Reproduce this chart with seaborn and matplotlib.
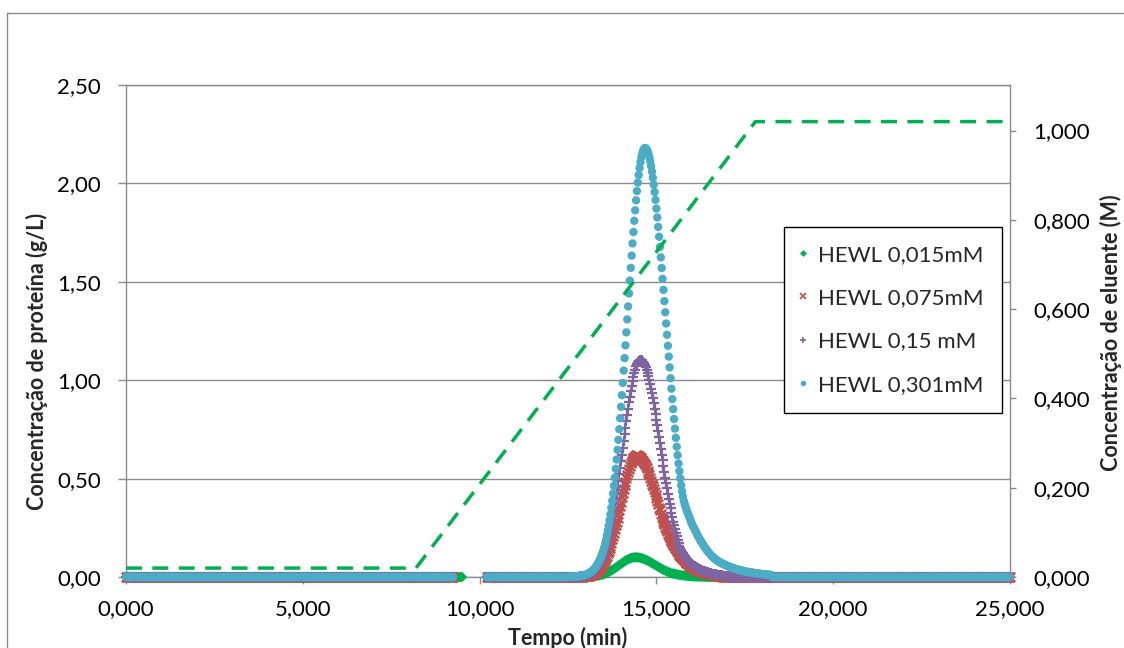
import numpy as np
import pandas as pd
import matplotlib
matplotlib.use("Agg")
import matplotlib.pyplot as plt
from matplotlib.lines import Line2D
from matplotlib.ticker import FuncFormatter
import seaborn as sns

# ---------------------------------------------------------------- data
STEP = 0.025          # sampling interval of the chromatograms (min)
GREEN_STEP = 0.05     # sampling interval of the 0,015 mM run (min)
T_END = 25.0
GAP_START = 9.25      # last baseline sample before the missing stretch
GAP_START_GREEN = 9.5
GAP_END = 10.2        # first sample after the missing stretch

series_labels = ["HEWL 0,015mM", "HEWL 0,075mM", "HEWL 0,15 mM", "HEWL 0,301mM"]

# protein concentration (g/L) across each elution peak; baseline elsewhere is 0
green_start = 12.80
green_peak = [
    0.0002, 0.0003, 0.0005, 0.0006, 0.0009, 0.0013, 0.0017, 0.0023, 0.0031, 0.0042,
    0.0054, 0.0070, 0.0090, 0.0113, 0.0141, 0.0174, 0.0212, 0.0255, 0.0304, 0.0357,
    0.0415, 0.0477, 0.0541, 0.0607, 0.0672, 0.0736, 0.0797, 0.0852, 0.0901, 0.0941,
    0.0972, 0.0992, 0.1000,
    0.0997, 0.0987, 0.0969, 0.0944, 0.0912, 0.0874, 0.0832, 0.0785, 0.0734, 0.0682,
    0.0628, 0.0574, 0.0520, 0.0468, 0.0418, 0.0370, 0.0325, 0.0283, 0.0244,
    0.0210, 0.0185, 0.0162, 0.0142, 0.0124, 0.0108, 0.0094, 0.0082, 0.0071, 0.0061,
    0.0053, 0.0045, 0.0039, 0.0033, 0.0028, 0.0024, 0.0020, 0.0017, 0.0014, 0.0012,
    0.0010,
]

red_start = 12.80
red_peak = [
    0.001, 0.001, 0.001, 0.002, 0.002, 0.002, 0.003, 0.003, 0.004, 0.004,
    0.005, 0.006, 0.007, 0.009, 0.010, 0.012, 0.014, 0.016, 0.019, 0.022,
    0.025, 0.029, 0.033, 0.038, 0.043, 0.049, 0.055, 0.062, 0.070, 0.078,
    0.087, 0.098, 0.108, 0.120, 0.132, 0.146, 0.160, 0.175, 0.191, 0.207,
    0.225, 0.243, 0.262, 0.281, 0.301, 0.321, 0.342, 0.362, 0.383, 0.404,
    0.425, 0.445, 0.465, 0.484, 0.502, 0.520, 0.536, 0.551, 0.565, 0.578,
    0.589, 0.598, 0.606, 0.612, 0.616, 0.618,
    0.618, 0.617, 0.615, 0.612, 0.608, 0.603, 0.596, 0.589, 0.581, 0.572,
    0.563, 0.552, 0.541, 0.529, 0.516, 0.503, 0.489, 0.475, 0.461, 0.446,
    0.431, 0.416, 0.400, 0.385, 0.369, 0.353, 0.338, 0.322, 0.307,
    0.293, 0.280, 0.267, 0.255, 0.243, 0.232, 0.221, 0.210, 0.200, 0.190,
    0.181, 0.172, 0.163, 0.155, 0.147, 0.140, 0.133, 0.126, 0.119, 0.113,
    0.107, 0.101, 0.096, 0.091, 0.086, 0.081, 0.077, 0.073, 0.069, 0.065,
    0.061, 0.058, 0.055, 0.052, 0.049, 0.046, 0.043, 0.041, 0.038, 0.036,
    0.034, 0.032, 0.030, 0.028, 0.026, 0.025, 0.023, 0.022, 0.020, 0.019,
    0.018, 0.017, 0.016, 0.015, 0.014, 0.013, 0.012, 0.011, 0.010, 0.009,
    0.009, 0.008, 0.007, 0.007, 0.006, 0.006, 0.005, 0.005,
]

purple_start = 12.80
purple_peak = [
    0.002, 0.002, 0.003, 0.003, 0.004, 0.005, 0.005, 0.006, 0.007, 0.009,
    0.010, 0.012, 0.014, 0.016, 0.019, 0.022, 0.025, 0.029, 0.033, 0.037,
    0.043, 0.049, 0.055, 0.062, 0.070, 0.079, 0.089, 0.100, 0.111, 0.124,
    0.138, 0.153, 0.169, 0.186, 0.205, 0.224, 0.245, 0.268, 0.291, 0.316,
    0.343, 0.370, 0.398, 0.428, 0.459, 0.490, 0.522, 0.555, 0.589, 0.622,
    0.657, 0.691, 0.725, 0.759, 0.792, 0.824, 0.856, 0.887, 0.916, 0.944,
    0.970, 0.995, 1.017, 1.037, 1.054, 1.070, 1.082, 1.092, 1.099, 1.104,
    1.105,
    1.104, 1.101, 1.095, 1.088, 1.078, 1.066, 1.052, 1.037, 1.019, 1.000,
    0.979, 0.957, 0.934, 0.909, 0.883, 0.856, 0.829, 0.800, 0.771, 0.742,
    0.712, 0.682, 0.652, 0.622, 0.592, 0.563, 0.534, 0.505, 0.477, 0.450,
    0.424, 0.398, 0.373, 0.349, 0.326, 0.304, 0.282, 0.262, 0.243, 0.224,
    0.207, 0.190, 0.175, 0.160,
    0.149, 0.139, 0.129, 0.120, 0.112, 0.105, 0.098, 0.092, 0.086, 0.081,
    0.077, 0.072, 0.068, 0.065, 0.061, 0.058, 0.055, 0.052, 0.049, 0.046,
    0.044, 0.041, 0.039, 0.037, 0.035, 0.033, 0.031, 0.029, 0.028, 0.026,
    0.025, 0.023, 0.022, 0.021, 0.019, 0.018, 0.017, 0.016, 0.015, 0.014,
    0.013, 0.012, 0.011, 0.011, 0.010, 0.009, 0.009, 0.008, 0.007, 0.007,
    0.006, 0.006, 0.005, 0.005, 0.004, 0.004,
]

blue_start = 12.55
blue_peak = [
    0.001, 0.001, 0.001, 0.001, 0.002, 0.002, 0.002, 0.002, 0.003, 0.003,
    0.004, 0.004, 0.005, 0.006, 0.007, 0.008, 0.009, 0.010, 0.012, 0.013,
    0.015, 0.017, 0.020, 0.023, 0.026, 0.029, 0.033, 0.038, 0.043, 0.048,
    0.055, 0.062, 0.070, 0.078, 0.088, 0.098, 0.109, 0.122, 0.135, 0.151,
    0.169, 0.189, 0.211, 0.235, 0.261, 0.289, 0.319, 0.352, 0.387, 0.424,
    0.463, 0.505, 0.550, 0.597, 0.646, 0.697, 0.751, 0.807, 0.865, 0.924,
    0.986, 1.049, 1.112, 1.177, 1.243, 1.309, 1.375, 1.441, 1.506, 1.571,
    1.633, 1.695, 1.753, 1.810, 1.863, 1.914, 1.961, 2.004, 2.043, 2.078,
    2.108, 2.133, 2.152, 2.167, 2.176, 2.180,
    2.179, 2.173, 2.164, 2.151, 2.134, 2.113, 2.088, 2.060, 2.029, 1.994,
    1.956, 1.916, 1.872, 1.827, 1.779, 1.729, 1.677, 1.624, 1.570, 1.515,
    1.459, 1.402, 1.345, 1.288, 1.231, 1.175, 1.120, 1.065, 1.010, 0.957,
    0.904, 0.853, 0.803, 0.754, 0.707, 0.662, 0.619, 0.577, 0.538, 0.501,
    0.466, 0.435, 0.408,
    0.387, 0.371, 0.356, 0.342, 0.330, 0.318, 0.306, 0.295, 0.283, 0.272,
    0.262, 0.253, 0.244, 0.235, 0.226, 0.217, 0.208, 0.200, 0.192, 0.185,
    0.177, 0.170, 0.163, 0.156, 0.149, 0.143, 0.137, 0.131, 0.125, 0.120,
    0.115, 0.110, 0.105, 0.101, 0.097, 0.093, 0.089, 0.086, 0.083, 0.080,
    0.077, 0.075, 0.072, 0.070, 0.067, 0.065, 0.063, 0.061, 0.059, 0.057,
    0.055, 0.053, 0.051, 0.050, 0.048, 0.046, 0.045, 0.043, 0.042, 0.040,
    0.039, 0.038, 0.036, 0.035, 0.034, 0.033, 0.032, 0.031, 0.030, 0.029,
    0.028, 0.027, 0.026, 0.025, 0.025, 0.024, 0.023, 0.022, 0.022, 0.021,
    0.020, 0.019, 0.019, 0.018, 0.018, 0.017, 0.016, 0.016, 0.015, 0.015,
    0.014, 0.014, 0.013, 0.013, 0.012, 0.012, 0.011, 0.011, 0.011, 0.010,
]

# eluent (salt) gradient, secondary axis (M)
eluent_time = [0.0, 8.2, 17.8, 25.0]
eluent_conc = [0.02, 0.02, 1.02, 1.02]

# axis ticks
x_ticks = [0, 5, 10, 15, 20, 25]
y_ticks = [0.0, 0.5, 1.0, 1.5, 2.0, 2.5]
y2_ticks = [0.0, 0.2, 0.4, 0.6, 0.8, 1.0]


def assemble(start, values, step, left_end):
    """Full chromatogram: zero baseline on the sampling grid plus the peak readings."""
    values = np.asarray(values, dtype=float)
    t_peak = start + step * np.arange(len(values))
    t_base = np.concatenate([
        np.arange(0.0, left_end + step / 2, step),
        np.arange(GAP_END, start - step / 2, step),
        np.arange(t_peak[-1] + step, T_END + step / 2, step),
    ])
    t = np.concatenate([t_base, t_peak])
    c = np.concatenate([np.zeros_like(t_base), values])
    order = np.argsort(t)
    return pd.DataFrame({"Tempo": t[order], "Conc": c[order]})


green_df = assemble(green_start, green_peak, GREEN_STEP, GAP_START_GREEN)
red_df = assemble(red_start, red_peak, STEP, GAP_START)
purple_df = assemble(purple_start, purple_peak, STEP, GAP_START)
blue_df = assemble(blue_start, blue_peak, STEP, GAP_START)
eluent_df = pd.DataFrame({"Tempo": eluent_time, "Eluente": eluent_conc})

# ---------------------------------------------------------------- style
sns.set_theme(style="white")
plt.rcParams["font.family"] = ["Lato", "DejaVu Sans"]

GRID = "#8a8a8a"
GREEN = "#00b050"
RED = "#c0504d"
PURPLE = "#8064a2"
BLUE = "#4bacc6"

W, H = 1124, 648
fig = plt.figure(figsize=(W / 100, H / 100), dpi=100)
fig.patch.set_facecolor("white")

x0, x1, y_top, y_bot = 126, 1010, 85, 577
ax = fig.add_axes([x0 / W, 1 - y_bot / H, (x1 - x0) / W, (y_bot - y_top) / H])
ax2 = ax.twinx()

# chart-area border (only its top and left edges fall inside the image)
fig.add_artist(Line2D([7 / W, 1.0], [1 - 13 / H, 1 - 13 / H], transform=fig.transFigure,
                      color=GRID, lw=1.0))
fig.add_artist(Line2D([7 / W, 7 / W], [0.0, 1 - 13 / H], transform=fig.transFigure,
                      color=GRID, lw=1.0))

# ---------------------------------------------------------------- protein curves
curves = [
    (green_df, GREEN, "D", dict(s=30, linewidth=0, edgecolor="none")),
    (red_df, RED, "x", dict(s=46, linewidth=1.7)),
    (purple_df, PURPLE, "+", dict(s=44, linewidth=1.6)),
    (blue_df, BLUE, "o", dict(s=36, linewidth=0, edgecolor="none")),
]
for df, color, marker, kw in curves:
    sns.scatterplot(data=df, x="Tempo", y="Conc", ax=ax, color=color, marker=marker,
                    legend=False, zorder=3, **kw)
    ax.collections[-1].set_clip_on(False)

# ---------------------------------------------------------------- eluent gradient
sns.lineplot(data=eluent_df, x="Tempo", y="Eluente", ax=ax2, color=GREEN, lw=2.5,
             linestyle=(0, (4.6, 3.0)), estimator=None, sort=False)

# ---------------------------------------------------------------- axes
ax.set_xlim(0, 25)
ax.set_ylim(0, 2.5)
ax2.set_ylim(0, 1.102)
ax.set_xticks(x_ticks)
ax.set_yticks(y_ticks)
ax2.set_yticks(y2_ticks)
ax.xaxis.set_major_formatter(FuncFormatter(lambda v, p: f"{v:.3f}".replace(".", ",")))
ax.yaxis.set_major_formatter(FuncFormatter(lambda v, p: f"{v:.2f}".replace(".", ",")))
ax2.yaxis.set_major_formatter(FuncFormatter(lambda v, p: f"{v:.3f}".replace(".", ",")))
ax.set_xlabel("")
ax.set_ylabel("")
ax2.set_ylabel("")

ax.grid(False)
ax2.grid(False)
ax.yaxis.grid(True, color=GRID, lw=1.0)
ax.set_axisbelow(True)

for name, sp in ax.spines.items():
    sp.set_visible(name in ("left", "bottom", "top"))
    sp.set_color(GRID)
    sp.set_linewidth(1.0)
for name, sp in ax2.spines.items():
    sp.set_visible(name == "right")
    sp.set_color(GRID)
    sp.set_linewidth(1.0)

TICK_FS = 16
ax.tick_params(axis="x", direction="out", length=5, width=1.0, color=GRID,
               pad=11, labelsize=TICK_FS, labelcolor="black", bottom=True)
ax.tick_params(axis="y", direction="out", length=5.5, width=1.0, color=GRID,
               pad=12.5, labelsize=TICK_FS, labelcolor="black", left=True)
ax2.tick_params(axis="y", direction="out", length=4.5, width=1.0, color=GRID,
                pad=12, labelsize=TICK_FS, labelcolor="black", right=True)

# axis titles
TITLE_FS = 15.5
fig.text(568 / W, 1 - 638 / H, "Tempo (min)", ha="center", va="center",
         fontsize=TITLE_FS, fontweight="bold")
fig.text(37 / W, 1 - 361 / H, "Concentração de proteína (g/L)", rotation=90,
         ha="center", va="center", fontsize=TITLE_FS, fontweight="bold")
fig.text(1111 / W, 1 - 333 / H, "Concentração de eluente (M)", rotation=90,
         ha="center", va="center", fontsize=TITLE_FS, fontweight="bold")

# ---------------------------------------------------------------- legend
handles = [
    Line2D([], [], ls="none", marker="D", ms=3.5, mew=0, color=GREEN),
    Line2D([], [], ls="none", marker="x", ms=4.0, mew=1.2, color=RED),
    Line2D([], [], ls="none", marker="+", ms=4.5, mew=1.2, color=PURPLE),
    Line2D([], [], ls="none", marker="o", ms=4.0, mew=0, color=BLUE),
]
leg = ax2.legend(handles, series_labels, loc="upper left",
                 bbox_to_anchor=(784 / W, 1 - 227 / H), bbox_transform=fig.transFigure,
                 borderaxespad=0, frameon=True, fancybox=False, shadow=False,
                 framealpha=1, edgecolor="black", fontsize=TICK_FS,
                 handlelength=0.1, handletextpad=0.65, borderpad=0.8,
                 labelspacing=1.05, numpoints=1)
leg.get_frame().set_linewidth(1.0)

fig.savefig("out.png", dpi=100, facecolor="white")
